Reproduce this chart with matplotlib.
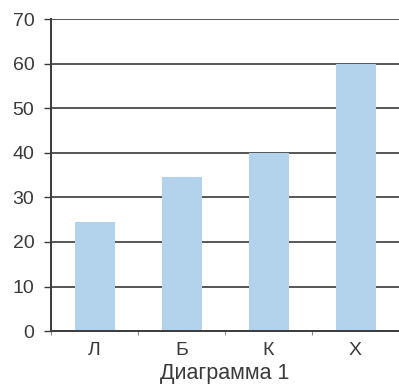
import numpy as np
import matplotlib.pyplot as plt

# данные диаграммы
categories = ["Л", "Б", "К", "Х"]
values = [24.5, 34.5, 40, 60]
y_ticks = [0, 10, 20, 30, 40, 50, 60, 70]

plt.rcParams['font.family'] = ['Liberation Sans', 'DejaVu Sans']

fig = plt.figure(figsize=(3.99, 3.90), dpi=100)
ax = fig.add_axes([0.128, 0.151, 0.872, 0.800])

x = np.arange(len(categories))
ax.bar(x, values, width=0.46, color="#b3d2ec", zorder=3)

#сетка по y
for t in y_ticks[1:]:
    ax.axhline(t, color="#3a3a3a", lw=1.2, zorder=1)

ax.set_xlim(-0.5, len(categories) - 0.5)
ax.set_ylim(0, 70)
ax.set_yticks(y_ticks)
ax.set_xticks(x)
ax.set_xticklabels(categories)
ax.set_xticks(np.arange(-0.5, len(categories), 1.0), minor=True)

ax.spines["top"].set_visible(False)
ax.spines["right"].set_visible(False)
for s in ["left", "bottom"]:
    ax.spines[s].set_color("#3a3a3a")
    ax.spines[s].set_linewidth(1.4)
ax.spines["bottom"].set_zorder(4)

ax.tick_params(axis="y", length=5, width=1, color="#3a3a3a", labelsize=14,
               labelcolor="#3a3a3a", pad=7)
ax.tick_params(axis="x", which="major", length=0, labelsize=14,
               labelcolor="#3a3a3a", pad=8)
ax.tick_params(axis="x", which="minor", length=3, width=0.8, color="#888888")

ax.set_xlabel("Диаграмма 1", fontsize=15.5, color="#3a3a3a", labelpad=3)

fig.savefig("out.png", dpi=100, facecolor="white")
